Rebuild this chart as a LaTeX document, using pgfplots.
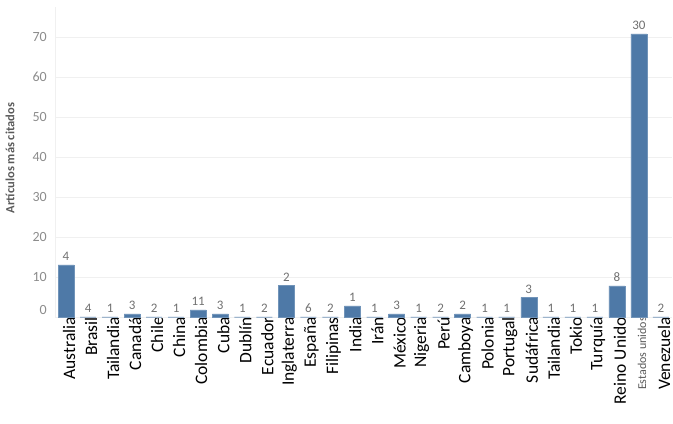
\documentclass[border=0pt]{standalone}
\usepackage{pgfplots}
\usepackage{pgfplotstable}
\usepackage{fontspec}
\setmainfont{Carlito}
\pgfplotsset{compat=1.18}
\definecolor{barblue}{HTML}{4E79A7}
\definecolor{gridc}{HTML}{F0F0F0}
\definecolor{tickc}{HTML}{8C8C8C}
\definecolor{valc}{HTML}{707070}
\definecolor{labc}{HTML}{5A5A5A}
\pgfplotstableread{
x y lab
0 13 4
1 0 4
2 0 1
3 0.8 3
4 0 2
5 0 1
6 1.8 11
7 0.8 3
8 0 1
9 0 2
10 7.9 2
11 0 6
12 0 2
13 2.8 1
14 0 1
15 0.8 3
16 0 1
17 0 2
18 0.8 2
19 0 1
20 0 1
21 4.9 3
22 0 1
23 0 1
24 0 1
25 7.8 8
26 70.8 30
27 0 2
}\datatable
\begin{document}
\begin{tikzpicture}
\begin{axis}[
  name=ax,
  scale only axis,
  width=617pt, height=310pt,
  xmin=-0.5, xmax=27.5,
  ymin=0, ymax=77.5,
  axis line style={draw=none},
  major tick length=0pt,
  ytick={10,20,30,40,50,60,70},
  extra y ticks={0},
  extra y tick style={yticklabel style={yshift=7pt}},
  ymajorgrids, extra y tick style={grid=major},
  grid style={gridc, line width=0.8pt},
  yticklabel style={font=\fontsize{14}{14}\selectfont, text=tickc, inner sep=0pt, xshift=-8pt},
  /pgf/number format/assume math mode=true,
  xtick={0,...,27},
  xticklabels={Australia,Brasil,Tailandia,Canadá,Chile,China,Colombia,Cuba,Dublín,Ecuador,Inglaterra,España,Filipinas,India,Irán,México,Nigeria,Perú,Camboya,Polonia,Portugal,Sudáfrica,Tailandia,Tokio,Turquía,Reino Unido,{\fontsize{12}{12}\selectfont\color{labc}Estados unidos},Venezuela},
  xticklabel style={rotate=90, anchor=east, font=\fontsize{17.5}{17.5}\selectfont, text=black, inner sep=0pt, yshift=-3pt},
  clip=false,
]
\draw[gridc, line width=0.8pt] (rel axis cs:0,0) -- (rel axis cs:0,1);
\node[rotate=90, anchor=center, font=\fontsize{12.5}{12.5}\selectfont\bfseries, text=labc]
  at ([xshift=-45pt]axis description cs:0,0.513) {Artículos más citados};
\addplot[ybar, bar width=16pt, fill=barblue, draw=barblue!80!white, line width=0.4pt,
  point meta=explicit symbolic,
  nodes near coords,
  nodes near coords style={font=\fontsize{13}{13}\selectfont, text=valc, anchor=south, inner sep=0pt, yshift=4pt}]
  table[x=x, y=y, meta=lab] {\datatable};
\end{axis}
\pgfresetboundingbox
\path[use as bounding box] ([xshift=-55pt,yshift=-107pt]ax.south west) rectangle ([xshift=1pt,yshift=7pt]ax.north east);
\end{tikzpicture}
\end{document}
